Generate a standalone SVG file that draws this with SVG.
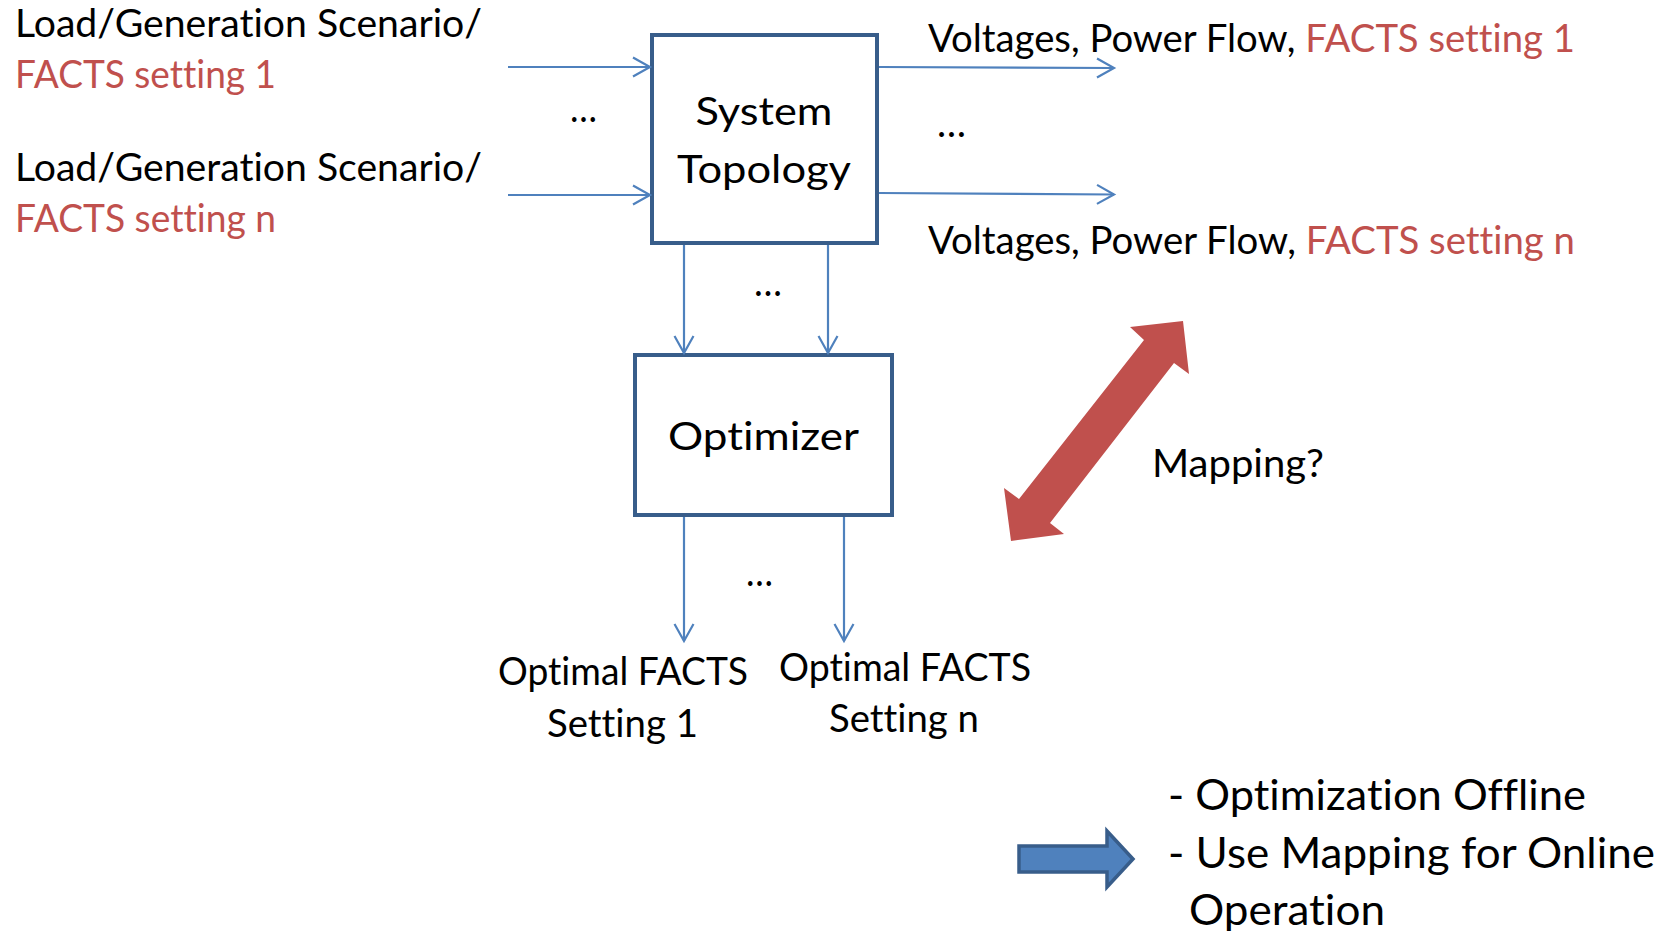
<svg xmlns="http://www.w3.org/2000/svg" width="1671" height="931" viewBox="0 0 1671 931">
  <defs>
    <style>
      text { font-family: Lato, "Open Sans", "Liberation Sans", sans-serif; fill: #000000; font-variant-ligatures: none; }
      .t { font-size: 38px; }
      .big { font-size: 42px; }
      .red { fill: #C0504D; }
      .box { fill: #FFFFFF; stroke: #385D8A; stroke-width: 4; }
      .wire { fill: none; stroke: #4F81BD; stroke-width: 2.2; marker-end: url(#chev); }
    </style>
    <marker id="chev" markerUnits="userSpaceOnUse" markerWidth="24" markerHeight="24" viewBox="-20 -12 22 24" refX="0" refY="0" orient="auto" overflow="visible">
      <path d="M -17 -9.5 L 0 0 L -17 9.5" fill="none" stroke="#4F81BD" stroke-width="2.2"/>
    </marker>
  </defs>
  <rect width="1671" height="931" fill="#FFFFFF"/>

  <!-- input scenario labels -->
  <g id="input-1">
    <text class="t" x="15" y="37" textLength="467" lengthAdjust="spacingAndGlyphs">Load/Generation Scenario/</text>
    <text class="t red" x="15" y="88" textLength="261" lengthAdjust="spacingAndGlyphs">FACTS setting 1</text>
  </g>
  <g id="input-n">
    <text class="t" x="15" y="181" textLength="467" lengthAdjust="spacingAndGlyphs">Load/Generation Scenario/</text>
    <text class="t red" x="15" y="232" textLength="261" lengthAdjust="spacingAndGlyphs">FACTS setting n</text>
  </g>

  <!-- output labels -->
  <g id="output-1">
    <text class="t" x="928" y="52" textLength="647" lengthAdjust="spacingAndGlyphs">Voltages, Power Flow, <tspan class="red">FACTS setting 1</tspan></text>
  </g>
  <g id="output-n">
    <text class="t" x="928" y="254" textLength="647" lengthAdjust="spacingAndGlyphs">Voltages, Power Flow, <tspan class="red">FACTS setting n</tspan></text>
  </g>

  <!-- System Topology block -->
  <g id="system-topology">
    <rect class="box" x="652" y="35" width="225" height="208"/>
    <text class="t" x="764" y="125" text-anchor="middle" textLength="137" lengthAdjust="spacingAndGlyphs">System</text>
    <text class="t" x="764" y="183" text-anchor="middle" textLength="174" lengthAdjust="spacingAndGlyphs">Topology</text>
  </g>

  <!-- Optimizer block -->
  <g id="optimizer">
    <rect class="box" x="635" y="355" width="257" height="160"/>
    <text class="t" x="763.5" y="450" text-anchor="middle" textLength="191" lengthAdjust="spacingAndGlyphs">Optimizer</text>
  </g>

  <!-- optimal settings -->
  <g id="optimal-1">
    <text class="t" x="623" y="685" text-anchor="middle" textLength="250" lengthAdjust="spacingAndGlyphs">Optimal FACTS</text>
    <text class="t" x="622.5" y="737" text-anchor="middle" textLength="151" lengthAdjust="spacingAndGlyphs">Setting 1</text>
  </g>
  <g id="optimal-n">
    <text class="t" x="905" y="681" text-anchor="middle" textLength="252" lengthAdjust="spacingAndGlyphs">Optimal FACTS</text>
    <text class="t" x="904" y="732" text-anchor="middle" textLength="150" lengthAdjust="spacingAndGlyphs">Setting n</text>
  </g>

  <!-- ellipses between parallel lines -->
  <g id="ellipses">
    <text class="t" x="570" y="122" textLength="27" lengthAdjust="spacingAndGlyphs">…</text>
    <text class="t" x="937" y="137" textLength="29" lengthAdjust="spacingAndGlyphs">…</text>
    <text class="t" x="754" y="296" textLength="28" lengthAdjust="spacingAndGlyphs">…</text>
    <text class="t" x="746" y="586" textLength="27" lengthAdjust="spacingAndGlyphs">…</text>
  </g>

  <!-- connectors -->
  <g id="connectors">
    <line class="wire" x1="508" y1="67" x2="650" y2="67"/>
    <line class="wire" x1="508" y1="195" x2="650" y2="195"/>
    <line class="wire" x1="879" y1="67" x2="1114" y2="68"/>
    <line class="wire" x1="879" y1="193" x2="1114" y2="194.5"/>
    <line class="wire" x1="684" y1="245" x2="684" y2="353"/>
    <line class="wire" x1="828" y1="245" x2="828" y2="353"/>
    <line class="wire" x1="684" y1="517" x2="684" y2="641"/>
    <line class="wire" x1="844" y1="517" x2="844" y2="641"/>
  </g>

  <!-- mapping double arrow -->
  <g id="mapping">
    <polygon points="1183,321 1189,374 1174,363 1050,523 1064,534 1011,541 1004,488 1019,499 1144,340 1130,327" fill="#C0504D"/>
    <text class="t" x="1152" y="477" textLength="172" lengthAdjust="spacingAndGlyphs">Mapping?</text>
  </g>

  <!-- conclusion -->
  <g id="conclusion">
    <polygon points="1019,846 1107,846 1107,831 1133,859 1107,887 1107,872 1019,872" fill="#4F81BD" stroke="#385D8A" stroke-width="3.5" stroke-linejoin="miter"/>
    <text class="big" x="1168" y="810" textLength="418" lengthAdjust="spacingAndGlyphs">- Optimization Offline</text>
    <text class="big" x="1168" y="868" textLength="487" lengthAdjust="spacingAndGlyphs">- Use Mapping for Online</text>
    <text class="big" x="1189" y="925" textLength="196" lengthAdjust="spacingAndGlyphs">Operation</text>
  </g>
</svg>
